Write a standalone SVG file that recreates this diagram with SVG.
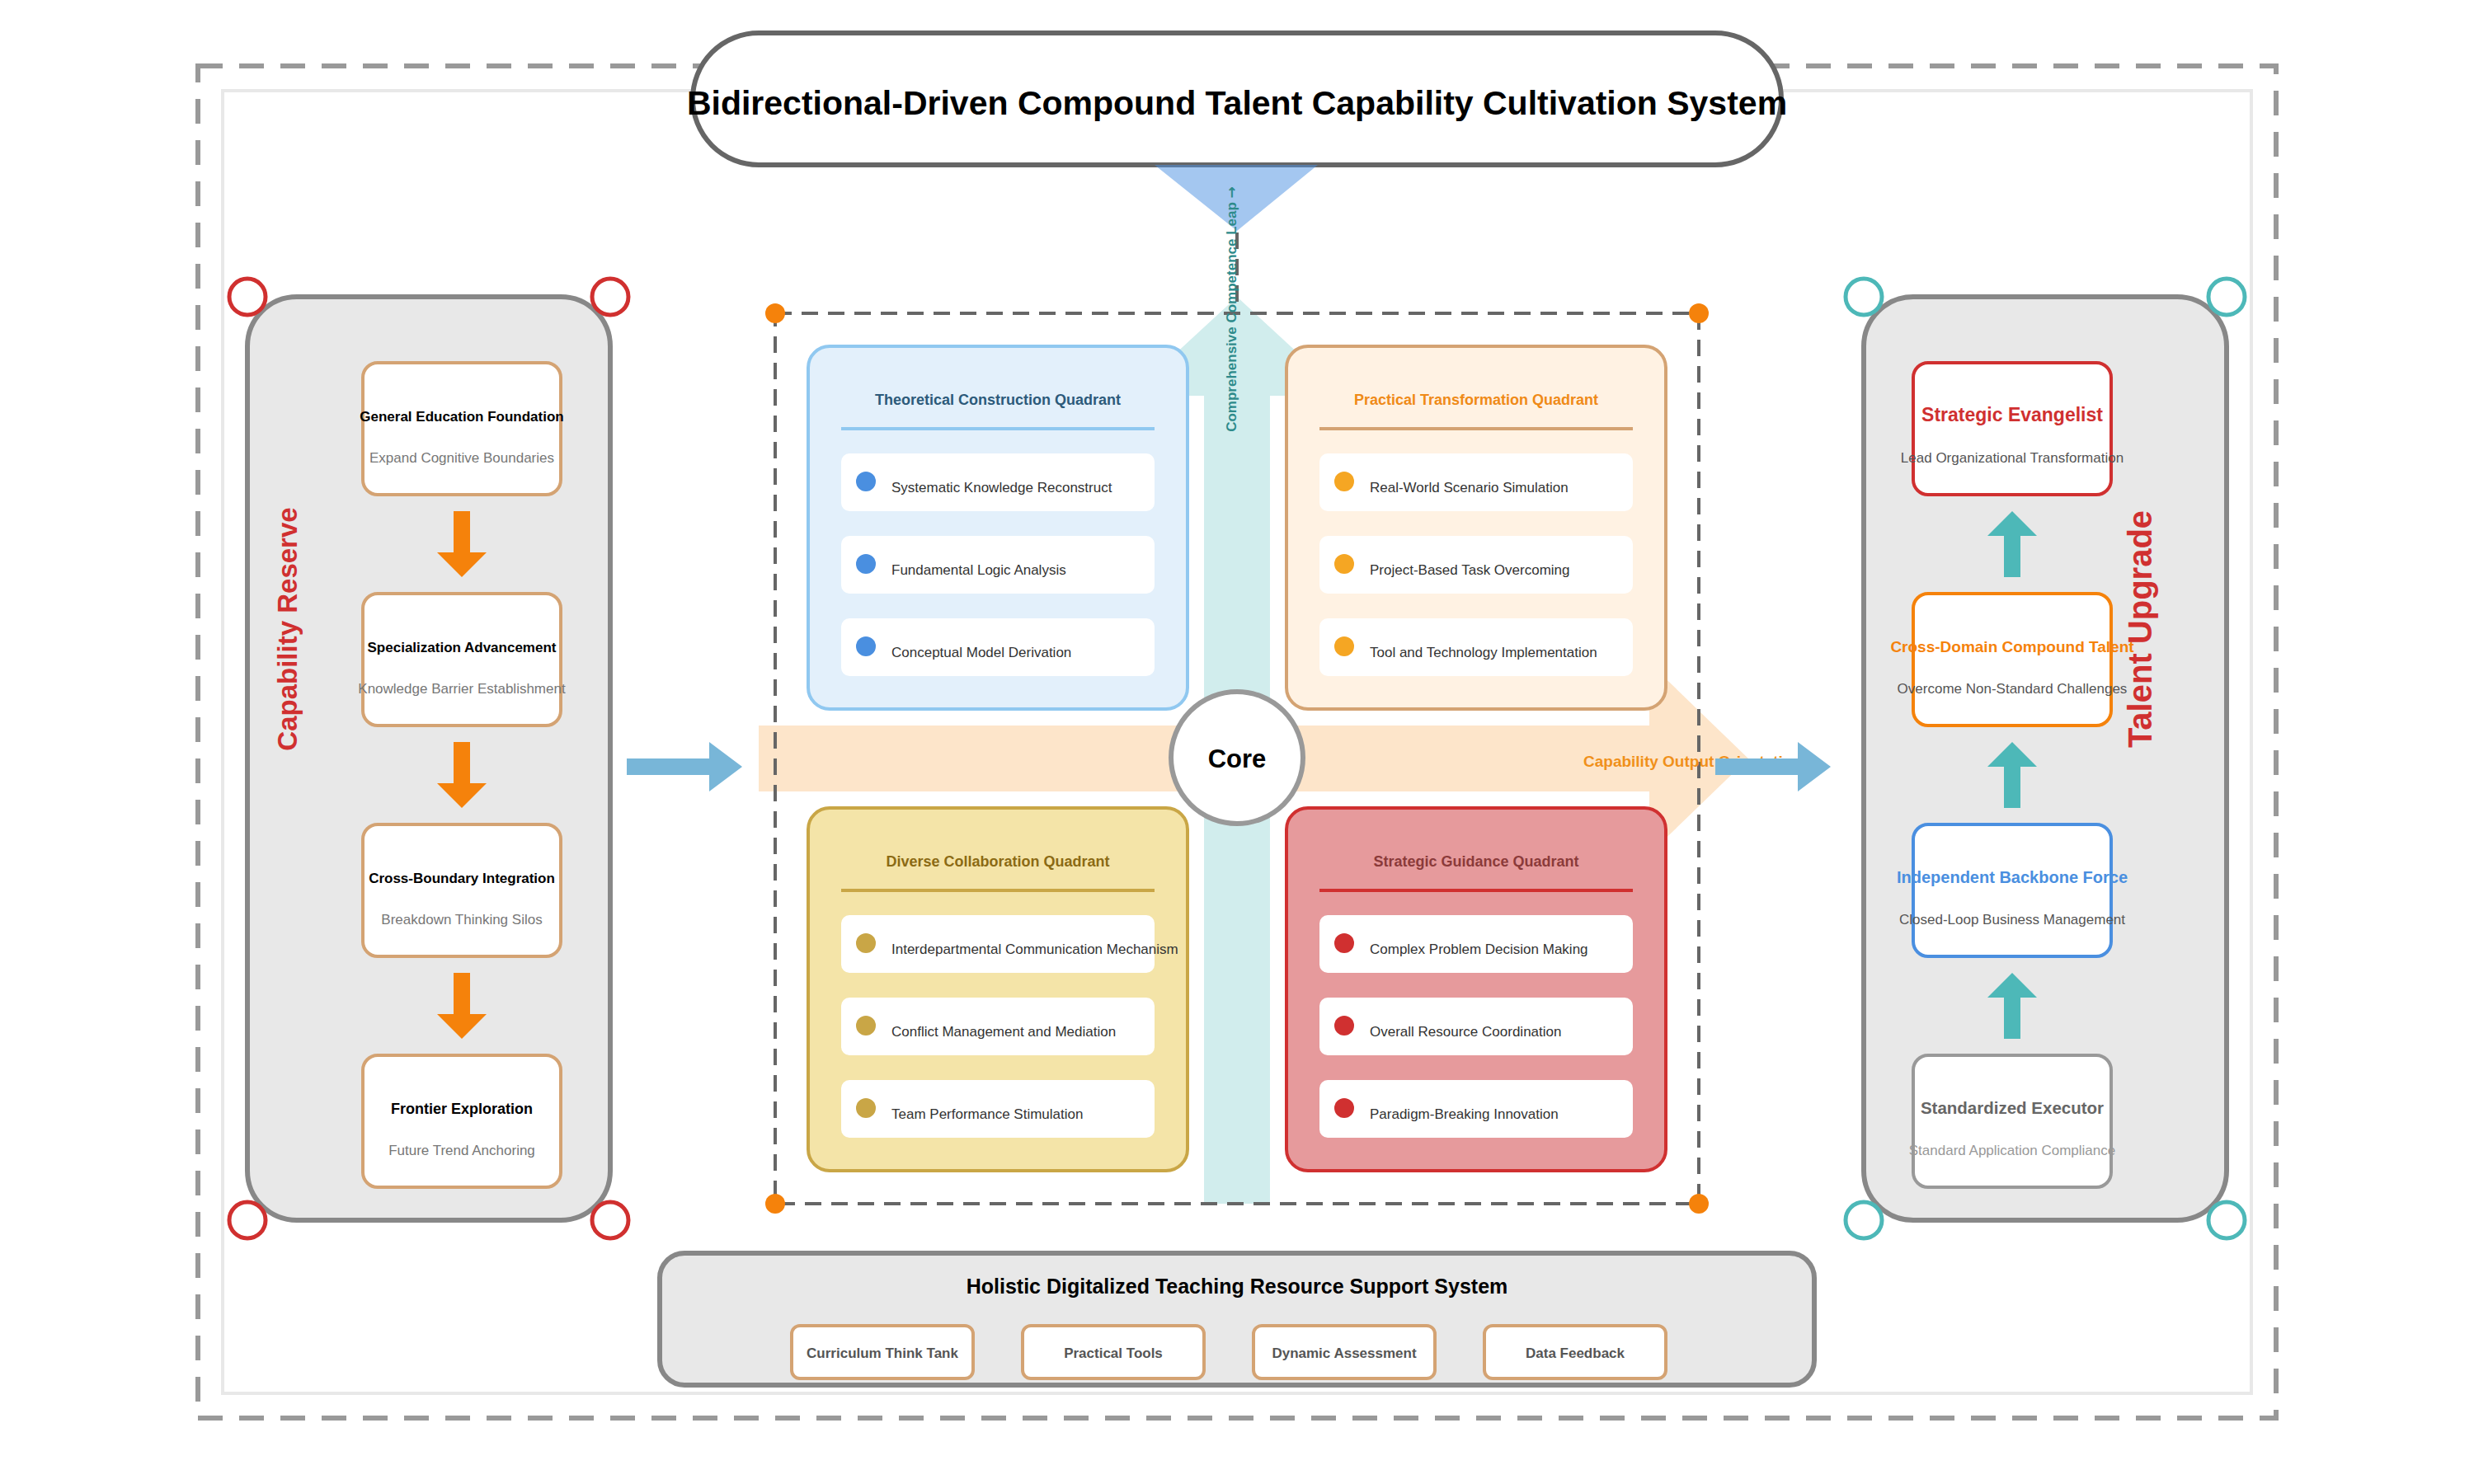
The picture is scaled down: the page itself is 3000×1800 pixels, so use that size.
<svg xmlns="http://www.w3.org/2000/svg" width="3000" height="1800" viewBox="0 0 3000 1800">
<style>
text { font-family: "Liberation Sans", Arial, sans-serif; }
.bold { font-weight: bold; }
.mid { text-anchor: middle; }
.stepbox { fill: #ffffff; stroke-width: 4; }
.lbox { stroke: #d4a373; }
.sub { font-size: 17px; text-anchor: middle; }
.item { fill: #ffffff; }
.itxt { font-size: 17px; fill: #333333; }
.corner-red { fill: #ffffff; stroke: #d0302f; stroke-width: 5; }
.corner-teal { fill: #ffffff; stroke: #4db8b8; stroke-width: 5; }
.dash-dark { fill: none; stroke: #666666; stroke-width: 4; stroke-dasharray: 20 12; }
.res { fill: #ffffff; stroke: #d4a373; stroke-width: 4; }
.restxt { font-size: 17px; font-weight: bold; fill: #555555; text-anchor: middle; }
.down { fill: #f5820b; }
.up { fill: #4db8b8; }
</style>

<rect x="0" y="0" width="3000" height="1800" fill="#ffffff"/>

<g id="frame">
<rect x="240" y="80" width="2520" height="1640" fill="none" stroke="#999999" stroke-width="6" stroke-dasharray="30 20"/>
<rect x="270" y="110" width="2460" height="1580" fill="#ffffff" stroke="#e8e8e8" stroke-width="4"/>
</g>

<g id="title">
<rect x="840" y="40" width="1320" height="160" rx="80" ry="80" fill="#ffffff" stroke="#666666" stroke-width="6"/>
<text x="1500" y="139" class="bold mid" font-size="41" fill="#000000">Bidirectional-Driven Compound Talent Capability Cultivation System</text>
</g>

<g id="flows">
<polygon id="flow-horizontal" points="920,880 2000,880 2000,804 2120,920 2000,1036 2000,960 920,960" fill="#f7a03a" fill-opacity="0.27"/>
<polygon id="flow-vertical" points="1460,1460 1460,480 1370,480 1500,360 1630,480 1540,480 1540,1460" fill="#4db8b8" fill-opacity="0.26"/>
</g>

<g id="quadrant-theoretical">
<rect x="980" y="420" width="460" height="440" rx="26" fill="#e3f0fb" stroke="#90c8f0" stroke-width="4"/>
<text x="1210" y="491" class="bold mid" font-size="18" fill="#2c5a7a">Theoretical Construction Quadrant</text>
<line x1="1020" y1="520" x2="1400" y2="520" stroke="#90c8f0" stroke-width="4"/>
<rect class="item" x="1020" y="550" width="380" height="70" rx="10"/>
<circle cx="1050" cy="584" r="12" fill="#4a8fe0"/>
<text class="itxt" x="1081" y="597">Systematic Knowledge Reconstruct</text>
<rect class="item" x="1020" y="650" width="380" height="70" rx="10"/>
<circle cx="1050" cy="684" r="12" fill="#4a8fe0"/>
<text class="itxt" x="1081" y="697">Fundamental Logic Analysis</text>
<rect class="item" x="1020" y="750" width="380" height="70" rx="10"/>
<circle cx="1050" cy="784" r="12" fill="#4a8fe0"/>
<text class="itxt" x="1081" y="797">Conceptual Model Derivation</text>
</g>

<g id="quadrant-practical">
<rect x="1560" y="420" width="460" height="440" rx="26" fill="#fff2e3" stroke="#d4a373" stroke-width="4"/>
<text x="1790" y="491" class="bold mid" font-size="18" fill="#ef8a17">Practical Transformation Quadrant</text>
<line x1="1600" y1="520" x2="1980" y2="520" stroke="#d4a373" stroke-width="4"/>
<rect class="item" x="1600" y="550" width="380" height="70" rx="10"/>
<circle cx="1630" cy="584" r="12" fill="#f5a623"/>
<text class="itxt" x="1661" y="597">Real-World Scenario Simulation</text>
<rect class="item" x="1600" y="650" width="380" height="70" rx="10"/>
<circle cx="1630" cy="684" r="12" fill="#f5a623"/>
<text class="itxt" x="1661" y="697">Project-Based Task Overcoming</text>
<rect class="item" x="1600" y="750" width="380" height="70" rx="10"/>
<circle cx="1630" cy="784" r="12" fill="#f5a623"/>
<text class="itxt" x="1661" y="797">Tool and Technology Implementation</text>
</g>

<g id="quadrant-diverse">
<rect x="980" y="980" width="460" height="440" rx="26" fill="#f4e4a8" stroke="#c9a646" stroke-width="4"/>
<text x="1210" y="1051" class="bold mid" font-size="18" fill="#8b6a14">Diverse Collaboration Quadrant</text>
<line x1="1020" y1="1080" x2="1400" y2="1080" stroke="#c9a646" stroke-width="4"/>
<rect class="item" x="1020" y="1110" width="380" height="70" rx="10"/>
<circle cx="1050" cy="1144" r="12" fill="#c9a646"/>
<text class="itxt" x="1081" y="1157">Interdepartmental Communication Mechanism</text>
<rect class="item" x="1020" y="1210" width="380" height="70" rx="10"/>
<circle cx="1050" cy="1244" r="12" fill="#c9a646"/>
<text class="itxt" x="1081" y="1257">Conflict Management and Mediation</text>
<rect class="item" x="1020" y="1310" width="380" height="70" rx="10"/>
<circle cx="1050" cy="1344" r="12" fill="#c9a646"/>
<text class="itxt" x="1081" y="1357">Team Performance Stimulation</text>
</g>

<g id="quadrant-strategic">
<rect x="1560" y="980" width="460" height="440" rx="26" fill="#e69a9c" stroke="#d03030" stroke-width="4"/>
<text x="1790" y="1051" class="bold mid" font-size="18" fill="#8b3a3a">Strategic Guidance Quadrant</text>
<line x1="1600" y1="1080" x2="1980" y2="1080" stroke="#d03030" stroke-width="4"/>
<rect class="item" x="1600" y="1110" width="380" height="70" rx="10"/>
<circle cx="1630" cy="1144" r="12" fill="#d03030"/>
<text class="itxt" x="1661" y="1157">Complex Problem Decision Making</text>
<rect class="item" x="1600" y="1210" width="380" height="70" rx="10"/>
<circle cx="1630" cy="1244" r="12" fill="#d03030"/>
<text class="itxt" x="1661" y="1257">Overall Resource Coordination</text>
<rect class="item" x="1600" y="1310" width="380" height="70" rx="10"/>
<circle cx="1630" cy="1344" r="12" fill="#d03030"/>
<text class="itxt" x="1661" y="1357">Paradigm-Breaking Innovation</text>
</g>

<g id="core-frame">
<rect class="dash-dark" x="940" y="380" width="1120" height="1080"/>
<circle cx="940" cy="380" r="12" fill="#f5820b"/>
<circle cx="2060" cy="380" r="12" fill="#f5820b"/>
<circle cx="940" cy="1460" r="12" fill="#f5820b"/>
<circle cx="2060" cy="1460" r="12" fill="#f5820b"/>
</g>

<g id="core">
<circle cx="1500" cy="919" r="80" fill="#ffffff" stroke="#999999" stroke-width="6"/>
<text x="1500" y="931" class="bold mid" font-size="31" fill="#000000">Core</text>
</g>

<g id="capability-reserve">
<rect x="300" y="360" width="440" height="1120" rx="60" fill="#e8e8e8" stroke="#888888" stroke-width="6"/>
<circle class="corner-red" cx="300" cy="360" r="22"/>
<circle class="corner-red" cx="740" cy="360" r="22"/>
<circle class="corner-red" cx="300" cy="1480" r="22"/>
<circle class="corner-red" cx="740" cy="1480" r="22"/>
<text transform="translate(360,763) rotate(-90)" class="bold mid" font-size="33" fill="#d03030">Capability Reserve</text>
</g>
<g id="step-general">
<rect class="stepbox lbox" x="440" y="440" width="240" height="160" rx="18"/>
<text x="560" y="511" class="bold mid" font-size="17" fill="#000000">General Education Foundation</text>
<text x="560" y="561" class="sub" fill="#777777">Expand Cognitive Boundaries</text>
</g>
<g id="step-special">
<rect class="stepbox lbox" x="440" y="720" width="240" height="160" rx="18"/>
<text x="560" y="791" class="bold mid" font-size="17" fill="#000000">Specialization Advancement</text>
<text x="560" y="841" class="sub" fill="#777777">Knowledge Barrier Establishment</text>
</g>
<g id="step-cross">
<rect class="stepbox lbox" x="440" y="1000" width="240" height="160" rx="18"/>
<text x="560" y="1071" class="bold mid" font-size="17" fill="#000000">Cross-Boundary Integration</text>
<text x="560" y="1121" class="sub" fill="#777777">Breakdown Thinking Silos</text>
</g>
<g id="step-frontier">
<rect class="stepbox lbox" x="440" y="1280" width="240" height="160" rx="18"/>
<text x="560" y="1351" class="bold mid" font-size="18" fill="#000000">Frontier Exploration</text>
<text x="560" y="1401" class="sub" fill="#777777">Future Trend Anchoring</text>
</g>

<g id="talent-upgrade">
<rect x="2260" y="360" width="440" height="1120" rx="60" fill="#e8e8e8" stroke="#888888" stroke-width="6"/>
<circle class="corner-teal" cx="2260" cy="360" r="22"/>
<circle class="corner-teal" cx="2700" cy="360" r="22"/>
<circle class="corner-teal" cx="2260" cy="1480" r="22"/>
<circle class="corner-teal" cx="2700" cy="1480" r="22"/>
</g>
<g id="level-evangelist">
<rect class="stepbox" x="2320" y="440" width="240" height="160" rx="18" stroke="#d03030"/>
<text x="2440" y="511" class="bold mid" font-size="23" fill="#d03030">Strategic Evangelist</text>
<text x="2440" y="561" class="sub" fill="#555555">Lead Organizational Transformation</text>
</g>
<g id="level-compound">
<rect class="stepbox" x="2320" y="720" width="240" height="160" rx="18" stroke="#f5820b"/>
<text x="2440" y="791" class="bold mid" font-size="19" fill="#f5820b">Cross-Domain Compound Talent</text>
<text x="2440" y="841" class="sub" fill="#555555">Overcome Non-Standard Challenges</text>
</g>
<g id="level-backbone">
<rect class="stepbox" x="2320" y="1000" width="240" height="160" rx="18" stroke="#4a8fe0"/>
<text x="2440" y="1071" class="bold mid" font-size="20" fill="#4a8fe0">Independent Backbone Force</text>
<text x="2440" y="1121" class="sub" fill="#555555">Closed-Loop Business Management</text>
</g>
<g id="level-executor">
<rect class="stepbox" x="2320" y="1280" width="240" height="160" rx="18" stroke="#999999"/>
<text x="2440" y="1351" class="bold mid" font-size="20.5" fill="#666666">Standardized Executor</text>
<text x="2440" y="1401" class="sub" fill="#999999">Standard Application Compliance</text>
</g>
<text transform="translate(2609,763) rotate(-90)" class="bold mid" font-size="40" fill="#d03030">Talent Upgrade</text>

<g id="resource-support">
<rect x="800" y="1520" width="1400" height="160" rx="30" fill="#e8e8e8" stroke="#888888" stroke-width="6"/>
<text x="1500" y="1569" class="bold mid" font-size="25" fill="#000000">Holistic Digitalized Teaching Resource Support System</text>
<rect class="res" x="960" y="1608" width="220" height="64" rx="10"/>
<text class="restxt" x="1070" y="1647">Curriculum Think Tank</text>
<rect class="res" x="1240" y="1608" width="220" height="64" rx="10"/>
<text class="restxt" x="1350" y="1647">Practical Tools</text>
<rect class="res" x="1520" y="1608" width="220" height="64" rx="10"/>
<text class="restxt" x="1630" y="1647">Dynamic Assessment</text>
<rect class="res" x="1800" y="1608" width="220" height="64" rx="10"/>
<text class="restxt" x="1910" y="1647">Data Feedback</text>
</g>

<g id="connectors">
<polygon id="leap-triangle" points="1400,200 1598,200 1500,280" fill="#4a90e2" fill-opacity="0.5"/>
<line class="dash-dark" x1="1500" y1="282" x2="1500" y2="378"/>
<polygon id="arrow-in" points="760,920 860,920 860,900 900,930 860,960 860,940 760,940" fill="#78b6d8"/>
<text x="1920" y="930" class="bold" font-size="19" fill="#f0901a">Capability Output Orientation</text>
<polygon id="arrow-out" points="2080,920 2180,920 2180,900 2220,930 2180,960 2180,940 2080,940" fill="#78b6d8"/>
<polygon class="down" points="550,620 570,620 570,670 590,670 560,700 530,670 550,670"/>
<polygon class="down" points="550,900 570,900 570,950 590,950 560,980 530,950 550,950"/>
<polygon class="down" points="550,1180 570,1180 570,1230 590,1230 560,1260 530,1230 550,1230"/>
<polygon class="up" points="2430,700 2430,650 2410,650 2440,620 2470,650 2450,650 2450,700"/>
<polygon class="up" points="2430,980 2430,930 2410,930 2440,900 2470,930 2450,930 2450,980"/>
<polygon class="up" points="2430,1260 2430,1210 2410,1210 2440,1180 2470,1210 2450,1210 2450,1260"/>
<text transform="translate(1499,375) rotate(-90)" class="bold mid" font-size="17" fill="#2e8b8b">Comprehensive Competence Leap <tspan font-family="'DejaVu Sans', sans-serif">→</tspan></text>
</g>
</svg>
